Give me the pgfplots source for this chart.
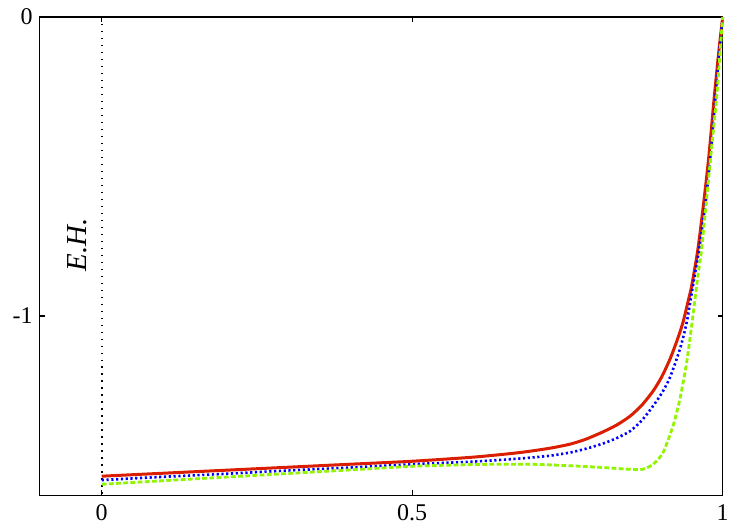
\documentclass[border=0pt]{standalone}
\usepackage{fontspec}
\setmainfont{Liberation Serif}
\usepackage{pgfplots}
\pgfplotsset{compat=1.18}

\definecolor{cred}{RGB}{220,30,0}
\definecolor{cblue}{RGB}{0,0,255}
\definecolor{cgreen}{RGB}{145,245,0}

\begin{document}
\begin{tikzpicture}
\begin{axis}[
    scale only axis,
    width=342pt, height=239.5pt,
    xmin=-0.1, xmax=1,
    ymin=-1.6, ymax=0,
    xtick={0,0.5,1},
    ytick={-1,0},
    major tick length=2.5pt,
    axis line style={line width=0.8pt},
    every tick/.style={black, line width=0.6pt},
    /pgf/number format/assume math mode=true,
    tick label style={font=\fontsize{12}{14}\selectfont},
    xticklabel style={yshift=-1pt},
    clip=false,
]
% event horizon
\addplot[black, line width=0.8pt, dash pattern=on 0.7pt off 2.8pt] coordinates {(0,0) (0,-1.6)};

\addplot[cred, line width=1.5pt, smooth, tension=0.4] coordinates {
    (0,-1.536) (0.1,-1.526) (0.2,-1.516) (0.3,-1.506) (0.4,-1.496) (0.5,-1.486)
    (0.6,-1.472) (0.673,-1.457) (0.72,-1.443) (0.754,-1.429) (0.78,-1.412)
    (0.807,-1.388) (0.83,-1.364) (0.851,-1.335) (0.87,-1.298) (0.888,-1.251)
    (0.902,-1.203) (0.915,-1.145) (0.926,-1.085) (0.936,-1.022) (0.945,-0.945)
    (0.950,-0.900) (0.960,-0.778) (0.970,-0.611) (0.978,-0.46) (0.986,-0.277)
    (0.993,-0.13) (1,0)
};

\addplot[cblue, line width=1.3pt, dash pattern=on 1.1pt off 1.3pt, smooth, tension=0.4] coordinates {
    (0,-1.549) (0.1,-1.538) (0.2,-1.528) (0.3,-1.517) (0.4,-1.507) (0.5,-1.496)
    (0.6,-1.487) (0.673,-1.477) (0.72,-1.468) (0.754,-1.457) (0.78,-1.444)
    (0.807,-1.427) (0.83,-1.408) (0.851,-1.385) (0.87,-1.349) (0.888,-1.301)
    (0.902,-1.258) (0.915,-1.206) (0.931,-1.112) (0.942,-1.022) (0.952,-0.900)
    (0.962,-0.778) (0.973,-0.611) (0.981,-0.45) (0.988,-0.277) (0.994,-0.13) (1,0)
};

\addplot[cgreen, line width=1.4pt, dash pattern=on 2.4pt off 1.2pt, smooth, tension=0.4] coordinates {
    (0,-1.563) (0.1,-1.551) (0.2,-1.539) (0.3,-1.527) (0.4,-1.515) (0.5,-1.503)
    (0.6,-1.497) (0.688,-1.496) (0.754,-1.501) (0.807,-1.507) (0.851,-1.513)
    (0.871,-1.513) (0.888,-1.496) (0.904,-1.457) (0.920,-1.368) (0.931,-1.279)
    (0.942,-1.156) (0.952,-1.0) (0.960,-0.867) (0.966,-0.778) (0.974,-0.611)
    (0.982,-0.44) (0.990,-0.277) (0.995,-0.14) (1,0)
};

\node[rotate=90, font=\fontsize{14.5}{16}\selectfont\itshape] at (axis cs:-0.040,-0.761) {E.H.};

\coordinate (bl) at (axis cs:-0.1638,-1.696);
\coordinate (tr) at (axis cs:1.044,0.0568);
\end{axis}
\path (bl) rectangle (tr);
\end{tikzpicture}
\end{document}
